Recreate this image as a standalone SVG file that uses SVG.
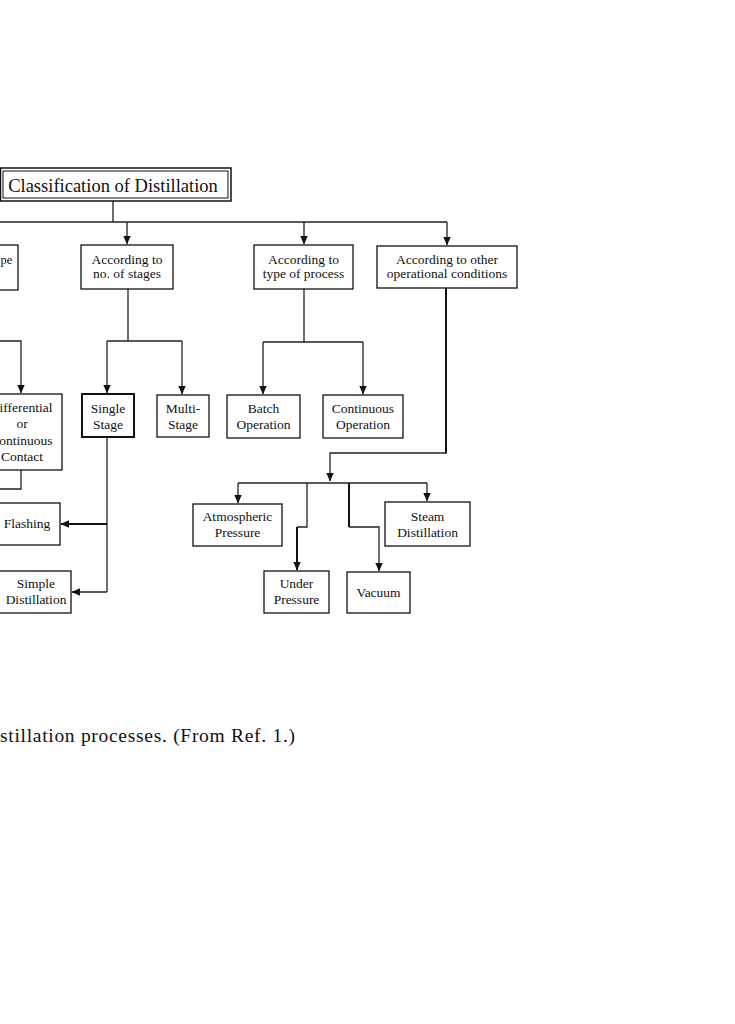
<svg xmlns="http://www.w3.org/2000/svg" width="735" height="1024" viewBox="0 0 735 1024">
<defs>
<marker id="ah" markerWidth="9" markerHeight="9" refX="8" refY="4.5" orient="auto" markerUnits="userSpaceOnUse">
<path d="M0,0.8 L8.5,4.5 L0,8.2 Z" fill="#111"/>
</marker>
</defs>
<style>
.box{fill:#fff;stroke:#111;stroke-width:1.3}
.bold{stroke-width:2}
.t{font-family:"Liberation Serif","Times New Roman",serif;font-size:13.5px;fill:#111;text-anchor:middle}
.c{fill:none;stroke:#222;stroke-width:1.3}
.ct{fill:none;stroke:#111;stroke-width:2}
</style>
<rect width="735" height="1024" fill="#fff"/>

<g id="connectors">
<path class="c" d="M113,201 V222"/>
<path class="c" d="M0,222 H447"/>
<path class="c" d="M127,222 V244" marker-end="url(#ah)"/>
<path class="c" d="M304,222 V244" marker-end="url(#ah)"/>
<path class="c" d="M447,222 V245" marker-end="url(#ah)"/>
<path class="c" d="M128,289 V341 M107,341 H182"/>
<path class="c" d="M107,341 V393" marker-end="url(#ah)"/>
<path class="c" d="M182,341 V394" marker-end="url(#ah)"/>
<path class="c" d="M304,289 V342 M263,342 H363"/>
<path class="c" d="M263,342 V394" marker-end="url(#ah)"/>
<path class="c" d="M363,342 V394" marker-end="url(#ah)"/>
<path class="c" d="M0,341 H21 V393" marker-end="url(#ah)"/>
<path class="c" d="M21,470 V489 H0"/>
<path class="c" d="M107,437 V592"/>
<path class="ct" d="M107,524 H61" marker-end="url(#ah)"/>
<path class="c" d="M107,592 H72" marker-end="url(#ah)"/>
<path class="ct" d="M446,288 V453"/>
<path class="c" d="M447,453 H330 V481" marker-end="url(#ah)"/>
<path class="c" d="M238,483 H427"/>
<path class="c" d="M238,483 V503" marker-end="url(#ah)"/>
<path class="c" d="M427,483 V501" marker-end="url(#ah)"/>
<path class="c" d="M307,483 V527 H297"/>
<path class="ct" d="M297,527 V570" marker-end="url(#ah)"/>
<path class="ct" d="M349,483 V527"/>
<path class="c" d="M349,527 H379 V571" marker-end="url(#ah)"/>
</g>

<g id="title">
<rect x="0.5" y="168" width="230.5" height="33" fill="#fff" stroke="#111" stroke-width="1.5"/>
<rect x="3" y="171" width="225" height="27" fill="none" stroke="#111" stroke-width="1"/>
<text x="113" y="192" class="t" style="font-size:18.5px">Classification of Distillation</text>
</g>

<g id="type-partial">
<rect class="box" x="-30" y="245" width="48" height="45"/>
<text x="0.5" y="264" class="t" style="text-anchor:start;font-size:12.5px">pe</text>
</g>

<g id="stages">
<rect class="box" x="81" y="245" width="92" height="44"/>
<text x="127" y="264" class="t">According to</text>
<text x="127" y="278" class="t">no. of stages</text>
</g>

<g id="process">
<rect class="box" x="254" y="245" width="99" height="44"/>
<text x="303.5" y="264" class="t">According to</text>
<text x="303.5" y="278" class="t">type of process</text>
</g>

<g id="other">
<rect class="box" x="377" y="246" width="140" height="42"/>
<text x="447" y="264" class="t">According to other</text>
<text x="447" y="278" class="t">operational conditions</text>
</g>

<g id="differential">
<rect class="box" x="-18" y="394" width="80" height="76"/>
<text x="52.5" y="412" class="t" style="text-anchor:end">ifferential</text>
<text x="22" y="428" class="t">or</text>
<text x="52.5" y="445" class="t" style="text-anchor:end">ontinuous</text>
<text x="22" y="461" class="t">Contact</text>
</g>

<g id="single">
<rect class="box bold" x="82" y="394" width="52" height="43"/>
<text x="108" y="413" class="t">Single</text>
<text x="108" y="429" class="t">Stage</text>
</g>

<g id="multi">
<rect class="box" x="157" y="395" width="52" height="42"/>
<text x="183" y="413" class="t">Multi-</text>
<text x="183" y="429" class="t">Stage</text>
</g>

<g id="batch">
<rect class="box" x="227" y="395" width="73" height="43"/>
<text x="263.5" y="413" class="t">Batch</text>
<text x="263.5" y="429" class="t">Operation</text>
</g>

<g id="continuous">
<rect class="box" x="323" y="395" width="80" height="43"/>
<text x="363" y="413" class="t">Continuous</text>
<text x="363" y="429" class="t">Operation</text>
</g>

<g id="flashing">
<rect class="box" x="-6" y="503" width="66" height="42"/>
<text x="27" y="528" class="t">Flashing</text>
</g>

<g id="simple">
<rect class="box" x="-1" y="571" width="72" height="42"/>
<text x="36" y="588" class="t">Simple</text>
<text x="36" y="604" class="t">Distillation</text>
</g>

<g id="atmospheric">
<rect class="box" x="193" y="504" width="89" height="42"/>
<text x="237.5" y="521" class="t">Atmospheric</text>
<text x="237.5" y="537" class="t">Pressure</text>
</g>

<g id="steam">
<rect class="box" x="385" y="502" width="85" height="44"/>
<text x="427.5" y="521" class="t">Steam</text>
<text x="427.5" y="537" class="t">Distillation</text>
</g>

<g id="under">
<rect class="box" x="264" y="571" width="65" height="42"/>
<text x="296.5" y="588" class="t">Under</text>
<text x="296.5" y="604" class="t">Pressure</text>
</g>

<g id="vacuum">
<rect class="box" x="347" y="572" width="63" height="41"/>
<text x="378.5" y="597" class="t">Vacuum</text>
</g>

<g id="caption">
<text x="0" y="742" font-family="'Liberation Serif','Times New Roman',serif" font-size="19.5" fill="#111" textLength="295" lengthAdjust="spacing">stillation processes. (From Ref. 1.)</text>
</g>
</svg>
